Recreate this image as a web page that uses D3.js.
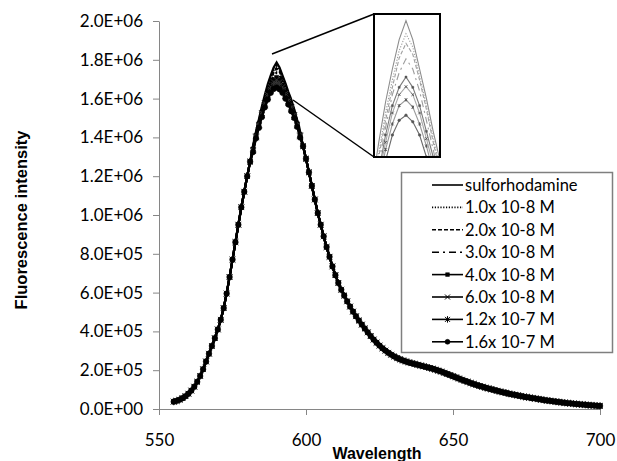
<!DOCTYPE html>
<html><head><meta charset="utf-8">
<script src="https://cdn.jsdelivr.net/npm/d3@7/dist/d3.min.js"></script>
<style>
html,body{margin:0;padding:0;background:#fff;}
svg{display:block;}
</style></head>
<body>
<svg id="chart" width="617" height="461"></svg>
<script>
// ---------------- DATA ----------------
const wavelengths = d3.range(555, 701); // 1 nm grid, 555..700
// shared spectrum (x1e5), the curves coincide outside the peak window
const sharedSpectrum = [
  0.38,0.42,0.48,0.56,0.66,0.79,0.95,1.15,1.40,1.70,
  2.05,2.45,2.85,3.25,3.65,4.10,4.60,5.20,5.95,6.80,
  7.70,8.60,9.50,10.40,11.20,12.00,12.75,13.40,14.10,14.70,
  15.30,15.80,16.30,16.70,17.00,17.10,17.00,16.70,16.35,16.00,
  15.60,15.20,14.70,14.15,13.55,12.90,12.20,11.50,10.80,10.10,
  9.50,8.90,8.35,7.85,7.35,6.90,6.50,6.15,5.85,5.55,
  5.28,5.02,4.78,4.56,4.35,4.15,3.95,3.76,3.58,3.42,
  3.27,3.13,3.01,2.90,2.80,2.71,2.63,2.56,2.50,2.45,
  2.40,2.36,2.32,2.28,2.24,2.20,2.16,2.12,2.08,2.03,
  1.98,1.93,1.87,1.81,1.75,1.69,1.63,1.57,1.51,1.45,
  1.40,1.34,1.29,1.24,1.19,1.15,1.10,1.06,1.02,0.98,
  0.94,0.90,0.86,0.83,0.79,0.76,0.73,0.70,0.67,0.64,
  0.61,0.59,0.56,0.54,0.51,0.49,0.46,0.44,0.42,0.40,
  0.38,0.36,0.34,0.32,0.30,0.29,0.27,0.26,0.24,0.23,
  0.22,0.20,0.19,0.18,0.17,0.16
];
const seriesNames = ["sulforhodamine","1.0x 10-8 M","2.0x 10-8 M","3.0x 10-8 M",
                     "4.0x 10-8 M","6.0x 10-8 M","1.2x 10-7 M","1.6x 10-7 M"];
const peakWindowStart = 582; // peak-window values (x1e5) for 582..598 nm
const peakSulforhodamine = [13.6,14.3,14.95,15.6,16.2,16.75,17.2,17.6,17.86,17.6,17.2,16.8,16.35,15.95,15.45,14.9,14.3];
const peak1_0e8 = [13.55,14.25,14.9,15.5,16.05,16.6,17.05,17.45,17.68,17.5,17.1,16.7,16.25,15.85,15.4,14.85,14.25];
const peak2_0e8 = [13.5,14.2,14.85,15.45,16.0,16.5,16.95,17.35,17.55,17.4,17.05,16.65,16.2,15.8,15.35,14.8,14.2];
const peak3_0e8 = [13.45,14.15,14.8,15.4,15.9,16.4,16.85,17.15,17.34,17.2,16.9,16.5,16.1,15.7,15.3,14.75,14.2];
const peak4_0e8 = [13.4,14.1,14.7,15.3,15.8,16.3,16.7,16.95,17.09,16.95,16.7,16.35,16.0,15.6,15.2,14.7,14.15];
const peak6_0e8 = [13.35,14.05,14.65,15.25,15.75,16.2,16.6,16.85,16.96,16.85,16.6,16.25,15.9,15.55,15.15,14.65,14.1];
const peak1_2e7 = [13.3,14.0,14.6,15.15,15.65,16.1,16.45,16.7,16.78,16.68,16.45,16.15,15.8,15.45,15.05,14.6,14.05];
const peak1_6e7 = [13.25,13.95,14.5,15.05,15.55,15.95,16.3,16.5,16.57,16.48,16.3,16.0,15.7,15.35,15.0,14.55,14.0];
const peakWindows = [peakSulforhodamine,peak1_0e8,peak2_0e8,peak3_0e8,peak4_0e8,peak6_0e8,peak1_2e7,peak1_6e7];
const xTicks = [550,600,650,700];
const yTicks = [0,2e5,4e5,6e5,8e5,1e6,1.2e6,1.4e6,1.6e6,1.8e6,2e6];

// ---------------- STYLES ----------------
const styles = [
  {dash:null, marker:null},
  {dash:"1.2,1.6", marker:null},
  {dash:"4,2", marker:null},
  {dash:"7,4,2,4", marker:null},
  {dash:null, marker:"square"},
  {dash:null, marker:"x"},
  {dash:null, marker:"asterisk"},
  {dash:null, marker:"circle"}
];
const insetColors = ["#8c8c8c","#9a9a9a","#a0a0a0","#9c9c9c","#7a7a7a","#a8a8a8","#9a9a9a","#6a6a6a"];

// build series
const series = seriesNames.map((name, si) => ({
  name,
  values: wavelengths.map((w, i) => {
    const j = w - peakWindowStart;
    const v = (j >= 0 && j < peakWindows[si].length) ? peakWindows[si][j] : sharedSpectrum[i];
    return {w, v: v * 1e5};
  })
}));

const svg = d3.select("#chart");
const x = d3.scaleLinear().domain([550,700]).range([159,600]);
const y = d3.scaleLinear().domain([0,2e6]).range([409,21]);
const axisColor = "#868686";
const tickFont = "Lato, 'Open Sans', sans-serif";

function fmtE(v){
  if (v === 0) return "0.0E+00";
  const e = Math.floor(Math.log10(v) + 1e-9);
  const m = v / Math.pow(10, e);
  return m.toFixed(1) + "E+" + String(e).padStart(2,"0");
}

// axes
const gy = svg.append("g").attr("transform","translate(159,0)")
  .call(d3.axisLeft(y).tickValues(yTicks).tickFormat(fmtE).tickSize(6).tickSizeOuter(0).tickPadding(10));
const gx = svg.append("g").attr("transform","translate(0,409)")
  .call(d3.axisBottom(x).tickValues(xTicks).tickFormat(d3.format("d")).tickSize(6).tickSizeOuter(0).tickPadding(19));
[gx, gy].forEach(g => {
  g.selectAll("path,line").attr("stroke", axisColor).attr("stroke-width", 1);
  g.selectAll("text").attr("fill","#000").style("font-family", tickFont).style("font-size","17px");
});

// axis titles
svg.append("text").attr("x",377).attr("y",459).attr("text-anchor","middle")
  .style("font-family","Arial, 'Liberation Sans', sans-serif").style("font-weight","bold").style("font-size","16px")
  .text("Wavelength");
svg.append("text").attr("transform","translate(27,220) rotate(-90)").attr("text-anchor","middle")
  .style("font-family","Arial, 'Liberation Sans', sans-serif").style("font-weight","bold").style("font-size","16.5px")
  .text("Fluorescence intensity");

// marker path generator
function markerPath(type, s){
  switch(type){
    case "square": return `M${-s*0.75},${-s*0.75}h${1.5*s}v${1.5*s}h${-1.5*s}Z`;
    case "x": return `M${-s},${-s}L${s},${s}M${-s},${s}L${s},${-s}`;
    case "asterisk": return `M${-s},${-s}L${s},${s}M${-s},${s}L${s},${-s}M0,${-s*1.3}V${s*1.3}`;
    case "circle": return d3.arc()({innerRadius:0,outerRadius:s,startAngle:0,endAngle:2*Math.PI});
  }
  return "";
}

function drawSeries(g, xs, ys, colorFn, lw, msize){
  series.forEach((s, si) => {
    const st = styles[si];
    const line = d3.line().x(d => xs(d.w)).y(d => ys(d.v));
    g.append("path").datum(s.values).attr("d", line)
      .attr("fill","none").attr("stroke", colorFn(si, "line")).attr("stroke-width", lw)
      .attr("stroke-dasharray", st.dash);
    if (st.marker){
      const filled = st.marker === "square" || st.marker === "circle";
      g.append("g").selectAll("path").data(s.values).join("path")
        .attr("transform", d => `translate(${xs(d.w)},${ys(d.v)})`)
        .attr("d", markerPath(st.marker, msize))
        .attr("fill", filled ? colorFn(si,"marker") : "none")
        .attr("stroke", colorFn(si,"marker")).attr("stroke-width", filled ? 0.5 : 1);
    }
  });
}

// main plot
const plot = svg.append("g");
drawSeries(plot, x, y, (si, part) => (part === "marker" && (si === 5 || si === 6)) ? "#333" : "#000", 2.2, 2.8);

// connector lines to inset
svg.append("line").attr("x1",272).attr("y1",54).attr("x2",374).attr("y2",14).attr("stroke","#000").attr("stroke-width",1.5);
svg.append("line").attr("x1",293).attr("y1",100).attr("x2",374).attr("y2",157).attr("stroke","#000").attr("stroke-width",1.5);

// inset
const inset = {x0:374, y0:14, x1:440, y1:157};
svg.append("defs").append("clipPath").attr("id","insetClip")
  .append("rect").attr("x",inset.x0).attr("y",inset.y0).attr("width",inset.x1-inset.x0).attr("height",inset.y1-inset.y0);
svg.append("rect").attr("x",inset.x0).attr("y",inset.y0).attr("width",inset.x1-inset.x0).attr("height",inset.y1-inset.y0)
  .attr("fill","#fff");
const xi = d3.scaleLinear().domain([585.3,595.0]).range([inset.x0, inset.x1]);
const yi = d3.scaleLinear().domain([1.60e6,1.795e6]).range([inset.y1, inset.y0]);
const ig = svg.append("g").attr("clip-path","url(#insetClip)");
drawSeries(ig, xi, yi, (si, part) => part === "marker" ? "#555" : insetColors[si], 1.1, 1.3);
svg.append("rect").attr("x",inset.x0).attr("y",inset.y0).attr("width",inset.x1-inset.x0).attr("height",inset.y1-inset.y0)
  .attr("fill","none").attr("stroke","#000").attr("stroke-width",2);

// legend
const lg = svg.append("g");
lg.append("rect").attr("x",401.5).attr("y",172.5).attr("width",211).attr("height",180)
  .attr("fill","#fff").attr("stroke","#7f7f7f").attr("stroke-width",1.5);
seriesNames.forEach((name, si) => {
  const cy = 185 + si * 22.4;
  const st = styles[si];
  const row = lg.append("g");
  row.append("line").attr("x1",432).attr("x2",463).attr("y1",cy).attr("y2",cy)
    .attr("stroke","#000").attr("stroke-width",1.6).attr("stroke-dasharray", st.dash);
  if (st.marker){
    const filled = st.marker === "square" || st.marker === "circle";
    row.append("path").attr("transform",`translate(447.5,${cy})`).attr("d", markerPath(st.marker, 2.5))
      .attr("fill", filled ? "#000" : "none").attr("stroke", "#000").attr("stroke-width", filled ? 0.5 : 1);
  }
  row.append("text").attr("x",465).attr("y",cy).attr("dy","0.36em")
    .style("font-family", tickFont).style("font-size","16.5px").text(name);
});
</script>
</body></html>
